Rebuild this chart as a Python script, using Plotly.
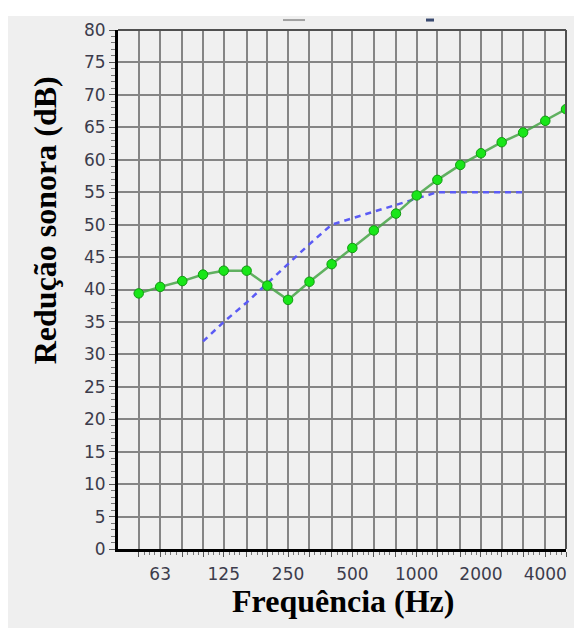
import math
import plotly.graph_objects as go

# ---- data ----
bands = [50, 63, 80, 100, 125, 160, 200, 250, 315, 400, 500, 630, 800,
         1000, 1250, 1600, 2000, 2500, 3150, 4000, 5000]
measured = [39.4, 40.4, 41.3, 42.3, 42.9, 42.9, 40.6, 38.4, 41.2, 43.9, 46.4,
            49.1, 51.7, 54.5, 56.9, 59.2, 61.0, 62.7, 64.2, 66.0, 67.8]
ref_freq = [100, 125, 160, 200, 250, 315, 400, 500, 630, 800, 1000, 1250,
            1600, 2000, 2500, 3150]
ref_vals = [32, 35, 38, 41, 44, 47, 50, 51, 52, 53, 54, 55, 55, 55, 55, 55]
octave_labels = ["63", "125", "250", "500", "1000", "2000", "4000"]

# ---- layout geometry ----
# the page body adds an 8px margin, so the figure is 8px smaller
OFF = 8
W, H = 582 - OFF, 628 - OFF
# plot area in page pixels: x 118..566, y 28..549
L = 118 - OFF
T = 28 - OFF
R = W - (566 - OFF)
B = H - (549 - OFF)
pw, ph = W - L - R, H - T - B


def px(xp):  # page pixel x -> paper
    return (xp - OFF - L) / pw


def py(yp):  # page pixel y -> paper
    return (H - B - (yp - OFF)) / ph


ticktext = [str(f) if str(f) in octave_labels else "" for f in bands]
minor_vals = []
for f in bands[:-1]:
    for k in (1, 2, 3):
        minor_vals.append(f * 2 ** (k / 12))

fig = go.Figure()
fig.add_trace(go.Scatter(
    x=ref_freq, y=ref_vals, mode="lines",
    line=dict(color="#5b5bf5", width=2.5, dash="6px,5px"),
    showlegend=False, hoverinfo="skip"))
fig.add_trace(go.Scatter(
    x=bands, y=measured, mode="lines+markers",
    line=dict(color="rgba(70,165,70,0.85)", width=2.5),
    marker=dict(symbol="circle", size=9.5, color="#19e619",
                line=dict(color="#119a11", width=1)),
    showlegend=False))

tickfont = dict(family="DejaVu Sans", size=17, color="#3c3c4c")

fig.update_xaxes(
    type="log", range=[math.log10(40), math.log10(5000)],
    tickmode="array", tickvals=bands, ticktext=ticktext,
    showgrid=True, gridcolor="#858585", gridwidth=2,
    showline=True, linecolor="black", linewidth=3,
    ticks="outside", ticklen=5, tickwidth=1, tickcolor="#555",
    ticklabelstandoff=3,
    minor=dict(tickvals=minor_vals, ticks="outside", ticklen=3,
               tickcolor="#777", showgrid=False),
    tickfont=tickfont, zeroline=False, fixedrange=True)
fig.update_yaxes(
    range=[0, 80], tick0=0, dtick=5,
    showgrid=True, gridcolor="#858585", gridwidth=2,
    showline=True, linecolor="black", linewidth=3,
    ticks="outside", ticklen=6, tickwidth=1, tickcolor="#555",
    ticklabelstandoff=0,
    minor=dict(dtick=1, ticks="outside", ticklen=4, tickcolor="#777",
               showgrid=False),
    tickfont=tickfont, zeroline=False, fixedrange=True)

shapes = [
    # white strip at the top edge
    dict(type="rect", xref="paper", yref="paper", x0=px(0), x1=px(590),
         y0=py(14), y1=py(0), fillcolor="white", line_width=0, layer="below"),
    # top and right frame lines
    dict(type="line", xref="paper", yref="paper", x0=0, x1=1, y0=1, y1=1,
         line=dict(color="#505050", width=2)),
    dict(type="line", xref="paper", yref="paper", x0=1, x1=1, y0=0, y1=1,
         line=dict(color="#505050", width=2)),
    # clipped legend remnants
    dict(type="line", xref="paper", yref="paper", x0=px(283), x1=px(305),
         y0=py(18), y1=py(18), line=dict(color="#a0a0a0", width=2)),
    dict(type="line", xref="paper", yref="paper", x0=px(426), x1=px(434),
         y0=py(18), y1=py(18), line=dict(color="#3a4a70", width=3)),
]

annotations = [
    dict(text="<b>Frequência (Hz)</b>", xref="paper", yref="paper",
         x=px(343), y=py(601), xanchor="center", yanchor="middle",
         showarrow=False,
         font=dict(family="Liberation Serif", size=32, color="black")),
    dict(text="<b>Redução sonora (dB)</b>", xref="paper", yref="paper",
         x=px(45), y=py(219), xanchor="center", yanchor="middle",
         textangle=-90, showarrow=False,
         font=dict(family="Liberation Serif", size=32, color="black")),
]

fig.update_layout(
    width=W, height=H, autosize=False,
    margin=dict(l=L, r=R, t=T, b=B, pad=0),
    paper_bgcolor="#efefef", plot_bgcolor="#f0f0f0",
    shapes=shapes, annotations=annotations, showlegend=False)

fig.write_html("out.html", config={"displayModeBar": False})
